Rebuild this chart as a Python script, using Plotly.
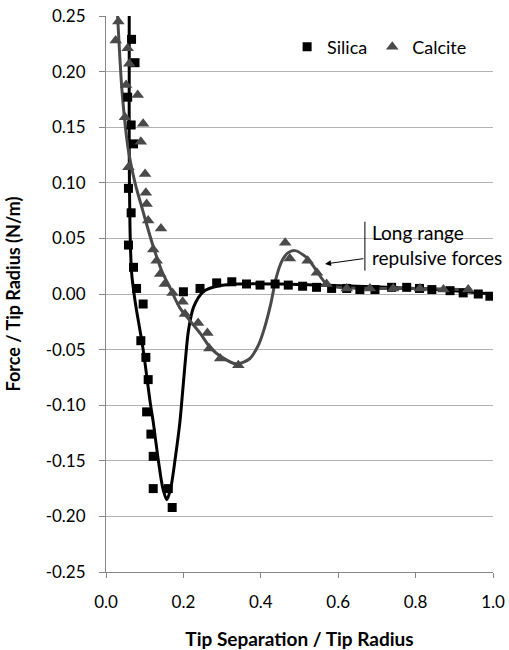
import plotly.graph_objects as go

# Measured data points
silica_x = [0.066, 0.075, 0.056, 0.065, 0.071, 0.058, 0.065, 0.058, 0.071, 0.079, 0.096, 0.090,
            0.103, 0.109, 0.105, 0.116, 0.122, 0.122, 0.161, 0.171, 0.200, 0.243, 0.286, 0.325,
            0.363, 0.398, 0.437, 0.471, 0.508, 0.544, 0.583, 0.622, 0.656, 0.695, 0.738, 0.777,
            0.810, 0.842, 0.889, 0.923, 0.962, 0.992]
silica_y = [0.229, 0.208, 0.177, 0.152, 0.135, 0.095, 0.073, 0.044, 0.024, 0.005, -0.009, -0.042,
            -0.057, -0.077, -0.106, -0.126, -0.146, -0.175, -0.175, -0.192, 0.002, 0.005, 0.010, 0.011,
            0.009, 0.008, 0.009, 0.008, 0.007, 0.006, 0.005, 0.005, 0.004, 0.004, 0.006, 0.006,
            0.005, 0.004, 0.003, 0.001, 0.000, -0.002]

calcite_x = [0.032, 0.025, 0.056, 0.060, 0.052, 0.082, 0.049, 0.096, 0.090, 0.058, 0.101, 0.103,
             0.105, 0.109, 0.142, 0.122, 0.131, 0.140, 0.152, 0.172, 0.198, 0.204, 0.238, 0.262,
             0.267, 0.295, 0.342, 0.463, 0.475, 0.521, 0.545, 0.570, 0.622, 0.682, 0.742, 0.811,
             0.872, 0.936]
calcite_y = [0.245, 0.228, 0.221, 0.207, 0.188, 0.179, 0.159, 0.153, 0.137, 0.114, 0.108, 0.091,
             0.081, 0.066, 0.059, 0.040, 0.030, 0.018, 0.009, 0.001, -0.007, -0.018, -0.026, -0.035,
             -0.049, -0.058, -0.064, 0.046, 0.032, 0.030, 0.019, 0.009, 0.005, 0.005, 0.005, 0.005,
             0.004, 0.004]

# Fitted curves
silica_fit_x = [0.060, 0.060, 0.060, 0.062, 0.066, 0.075, 0.096, 0.114, 0.122, 0.135, 0.147, 0.157,
                0.167, 0.180, 0.191, 0.198, 0.205, 0.213, 0.226, 0.251, 0.286, 0.338, 0.450, 0.550,
                0.650, 0.800, 0.900, 1.000]
silica_fit_y = [0.250, 0.200, 0.130, 0.060, 0.020, -0.006, -0.050, -0.097, -0.115, -0.149, -0.175, -0.185,
                -0.175, -0.145, -0.115, -0.088, -0.060, -0.033, -0.012, 0.002, 0.007, 0.009, 0.009, 0.008,
                0.007, 0.005, 0.003, 0.000]

calcite_fit_x = [0.030, 0.042, 0.058, 0.075, 0.095, 0.120, 0.145, 0.165, 0.190, 0.217, 0.245, 0.269,
                 0.300, 0.338, 0.372, 0.395, 0.410, 0.425, 0.440, 0.455, 0.470, 0.488, 0.514, 0.530,
                 0.544, 0.570, 0.600, 0.700, 0.800, 0.940]
calcite_fit_y = [0.250, 0.180, 0.129, 0.100, 0.075, 0.045, 0.020, 0.006, -0.012, -0.024, -0.036, -0.048,
                 -0.057, -0.063, -0.058, -0.045, -0.030, -0.010, 0.015, 0.030, 0.037, 0.039, 0.034, 0.028,
                 0.021, 0.009, 0.006, 0.005, 0.005, 0.004]

x_tick_vals = [0.0, 0.2, 0.4, 0.6, 0.8, 1.0]
x_tick_text = ["0.0", "0.2", "0.4", "0.6", "0.8", "1.0"]
y_tick_vals = [0.25, 0.20, 0.15, 0.10, 0.05, 0.00, -0.05, -0.10, -0.15, -0.20, -0.25]
y_tick_text = ["0.25", "0.20", "0.15", "0.10", "0.05", "0.00", "-0.05", "-0.10", "-0.15", "-0.20", "-0.25"]

FONT = "Lato, Carlito, 'Liberation Sans', sans-serif"
SILICA_C = "#000000"
CALCITE_C = "#4a4a4a"

fig = go.Figure()
fig.add_trace(go.Scatter(x=silica_fit_x, y=silica_fit_y, mode="lines",
                         line=dict(color=SILICA_C, width=3, shape="spline", smoothing=0.8),
                         showlegend=False, hoverinfo="skip"))
fig.add_trace(go.Scatter(x=calcite_fit_x, y=calcite_fit_y, mode="lines",
                         line=dict(color=CALCITE_C, width=3, shape="spline", smoothing=0.8),
                         showlegend=False, hoverinfo="skip"))
fig.add_trace(go.Scatter(x=silica_x, y=silica_y, mode="markers", name="Silica",
                         marker=dict(symbol="square", size=9, color=SILICA_C)))
fig.add_trace(go.Scatter(x=calcite_x, y=calcite_y, mode="markers", name="Calcite",
                         marker=dict(symbol="triangle-up", size=11, color=CALCITE_C)))

fig.update_layout(
    width=509, height=650,
    margin=dict(l=106, r=16, t=16, b=78),
    paper_bgcolor="white", plot_bgcolor="white",
    font=dict(family=FONT, size=16, color="#000000"),
    legend=dict(orientation="h", x=0.468, y=0.944, xanchor="left", yanchor="middle",
                bgcolor="rgba(0,0,0,0)", font=dict(size=18), itemwidth=30,
                tracegroupgap=0),
    showlegend=True,
)
fig.update_xaxes(range=[0, 1], tickvals=x_tick_vals, ticktext=x_tick_text, automargin=False,
                 showgrid=False, zeroline=False, showline=True, linecolor="#868686", linewidth=1,
                 ticks="outside", ticklen=5, tickcolor="#868686",
                 tickfont=dict(size=17), ticklabelstandoff=10, ticklabeloverflow="allow",
                 title=dict(text="<b>Tip Separation / Tip Radius</b>", font=dict(size=19), standoff=22))
fig.update_yaxes(range=[-0.25, 0.25], tickvals=y_tick_vals, ticktext=y_tick_text, automargin=False,
                 showgrid=True, gridcolor="#b3b3b3", gridwidth=1, zeroline=False,
                 showline=True, linecolor="#868686", linewidth=1,
                 ticks="outside", ticklen=6, tickcolor="#868686",
                 tickfont=dict(size=17), ticklabelstandoff=10, ticklabeloverflow="allow",
                 title=dict(text="<b>Force / Tip Radius (N/m)</b>", font=dict(size=18), standoff=20))

# Annotation: label, bracket line and arrow
fig.add_annotation(x=0.681, y=0.0442, xref="x", yref="y", text="Long range<br>repulsive forces",
                   showarrow=False, xanchor="left", yanchor="middle", align="left",
                   font=dict(size=19))
fig.add_shape(type="line", xref="x", yref="y", x0=0.669, x1=0.669, y0=0.065, y1=0.021,
              line=dict(color="#000000", width=1))
fig.add_annotation(x=0.566, y=0.027, ax=0.669, ay=0.032, xref="x", yref="y", axref="x", ayref="y",
                   text="", showarrow=True, arrowhead=2, arrowsize=1.2, arrowwidth=1, arrowcolor="#000000")

# Remove the page's default body margin so the 509x650 figure fills the window exactly
fig.write_html("out.html", config={"displayModeBar": False},
               post_script="document.body.style.margin='0';document.body.style.overflow='hidden';")
